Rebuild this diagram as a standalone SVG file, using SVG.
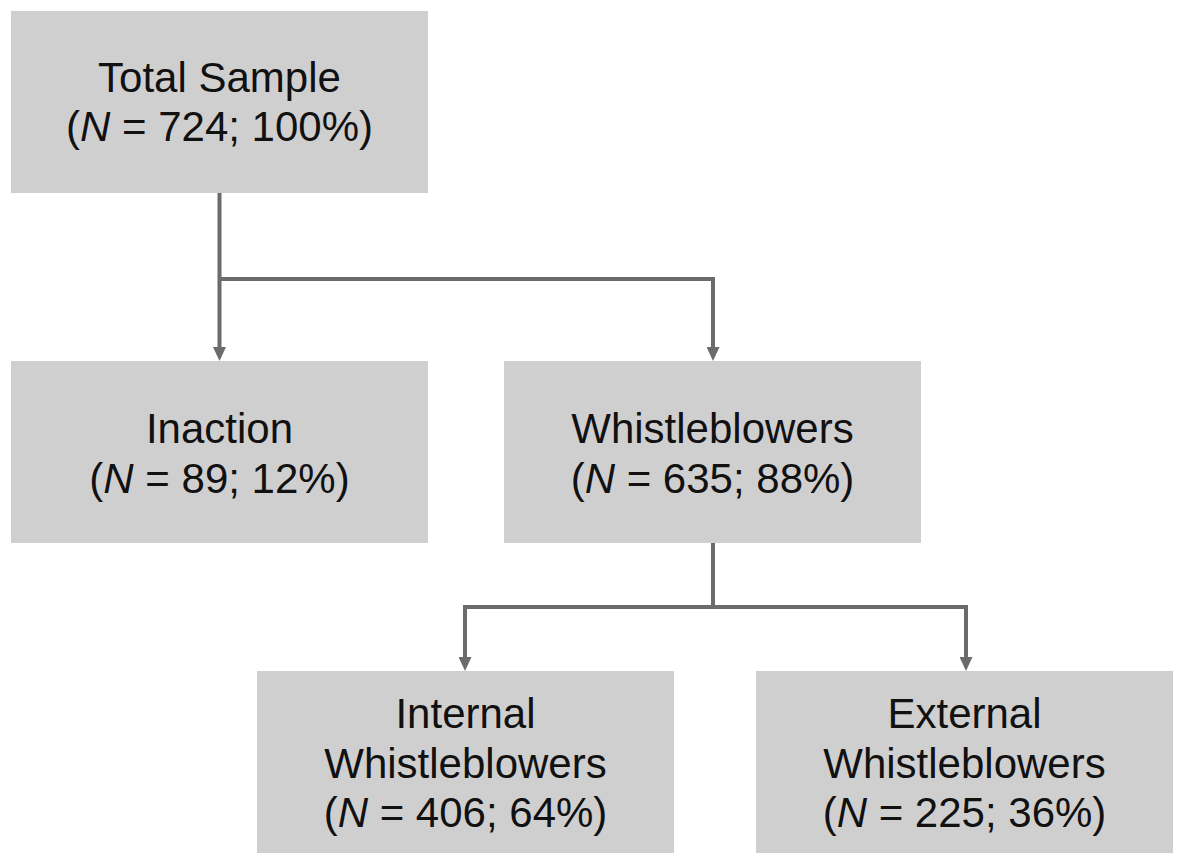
<svg xmlns="http://www.w3.org/2000/svg" width="1181" height="859" viewBox="0 0 1181 859">
<style>
.box{fill:#d0cfd0;}
.t{font-family:"Liberation Sans",Arial,sans-serif;font-size:42px;fill:#111;text-anchor:middle;}
.i{font-style:italic;}
.c{fill:none;stroke:#6b6b6b;stroke-width:4;}
</style>
<defs>
<marker id="ah" markerUnits="userSpaceOnUse" viewBox="0 0 14 13" refX="3" refY="6.5" markerWidth="14" markerHeight="13" orient="auto">
<path d="M0,0 L14,6.5 L0,13 z" fill="#6b6b6b"/>
</marker>
</defs>
<rect width="1181" height="859" fill="#ffffff"/>
<g id="connectors">
<path class="c" d="M219.5,192 V350" marker-end="url(#ah)"/>
<path class="c" d="M219.5,279 H713 V350" marker-end="url(#ah)"/>
<path class="c" d="M713,543 V607 H465 V660" marker-end="url(#ah)"/>
<path class="c" d="M713,607 H966 V660" marker-end="url(#ah)"/>
</g>
<g id="total">
<rect class="box" x="11" y="11" width="417" height="182"/>
<text class="t" x="219.5" y="92">Total Sample</text>
<text class="t" x="219.5" y="141">(<tspan class="i">N</tspan> = 724; 100%)</text>
</g>
<g id="inaction">
<rect class="box" x="11" y="361" width="417" height="182"/>
<text class="t" x="219.5" y="443">Inaction</text>
<text class="t" x="219.5" y="493">(<tspan class="i">N</tspan> = 89; 12%)</text>
</g>
<g id="whistleblowers">
<rect class="box" x="504" y="361" width="417" height="182"/>
<text class="t" x="712.5" y="443">Whistleblowers</text>
<text class="t" x="712.5" y="493">(<tspan class="i">N</tspan> = 635; 88%)</text>
</g>
<g id="internal">
<rect class="box" x="257" y="671" width="417" height="182"/>
<text class="t" x="465.5" y="728">Internal</text>
<text class="t" x="465.5" y="778">Whistleblowers</text>
<text class="t" x="465.5" y="827">(<tspan class="i">N</tspan> = 406; 64%)</text>
</g>
<g id="external">
<rect class="box" x="756" y="671" width="417" height="182"/>
<text class="t" x="964.5" y="728">External</text>
<text class="t" x="964.5" y="778">Whistleblowers</text>
<text class="t" x="964.5" y="827">(<tspan class="i">N</tspan> = 225; 36%)</text>
</g>
</svg>
